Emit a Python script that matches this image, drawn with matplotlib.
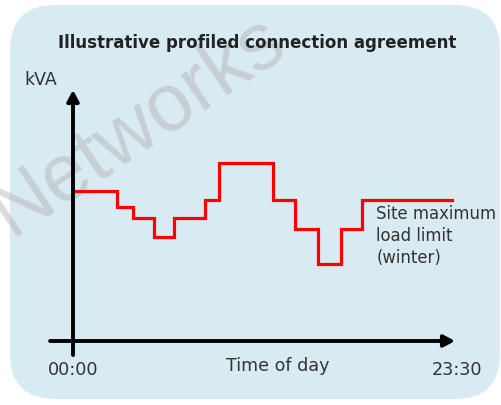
#!/usr/bin/env python3
"""
Illustrative profiled connection agreement - step chart of site load limit
"""

import matplotlib.pyplot as plt
from matplotlib.patches import FancyBboxPatch

# step boundaries (hours of day) and kVA level held from each boundary
step_hours = [0.0, 2.7, 3.7, 5.0, 6.2, 8.1, 9.0, 12.3, 13.65, 15.1, 16.5, 17.8, 23.3]
step_kva = [150, 134, 123, 104, 123, 141, 178, 141, 112, 77, 112, 141, 141]

x_tick_labels = ['00:00', '23:30']
x_max = 23.5
y_max = 251

W, H = 502, 405
fig = plt.figure(figsize=(W / 100, H / 100), dpi=100)
fig.patch.set_facecolor('white')

# rounded light-blue panel
panel = FancyBboxPatch((10 / W, 6 / H), 490 / W, 394 / H,
                       boxstyle='round,pad=0,rounding_size=0.09',
                       transform=fig.transFigure, facecolor='#d9ebf2',
                       edgecolor='none', zorder=-2, mutation_aspect=W / H)
fig.patches.append(panel)

# watermark
fig.text(138 / W, 1 - 126 / H, 'Networks', fontsize=58, color='#b0b0b0', alpha=0.45,
         rotation=34, ha='center', va='center', family='Liberation Sans', zorder=-1)

ax = fig.add_axes([73 / W, 1 - 341 / H, 382 / W, 251 / H])
ax.set_zorder(1)
ax.set_xlim(0, x_max)
ax.set_ylim(0, y_max)
ax.axis('off')

ax.step(step_hours, step_kva, where='post', color='#ff0000', linewidth=2.3,
        solid_joinstyle='miter', zorder=3)

# axis arrows
arrow = dict(arrowstyle='-|>,head_length=0.65,head_width=0.35', color='black',
             lw=2.8, shrinkA=0, shrinkB=0)
ax.annotate('', xy=(1.0, 0), xytext=(-0.06, 0), xycoords='axes fraction',
            arrowprops=arrow, zorder=4, annotation_clip=False)
ax.annotate('', xy=(0, 1.0), xytext=(0, -0.056), xycoords='axes fraction',
            arrowprops=arrow, zorder=4, annotation_clip=False)

txt = '#333333'
fig.text(257 / W, 1 - 43 / H, 'Illustrative profiled connection agreement',
         fontsize=12, fontweight='bold', color='#222222', ha='center', va='center')
fig.text(41 / W, 1 - 80 / H, 'kVA', fontsize=12.5, color=txt, ha='center', va='center')
ax.text(0, -0.115, x_tick_labels[0], transform=ax.transAxes, fontsize=12.7,
        color=txt, ha='center', va='center')
ax.text(1.005, -0.115, x_tick_labels[1], transform=ax.transAxes, fontsize=12.7,
        color=txt, ha='center', va='center')
ax.text(0.535, -0.1, 'Time of day', transform=ax.transAxes, fontsize=12.6,
        color=txt, ha='center', va='center')
ax.text(step_hours[-2] + 0.85, step_kva[-1] - 5, 'Site maximum\nload limit\n(winter)',
        fontsize=11.9, color=txt, ha='left', va='top', linespacing=1.3)

plt.savefig('out.png', dpi=100)
plt.close()
